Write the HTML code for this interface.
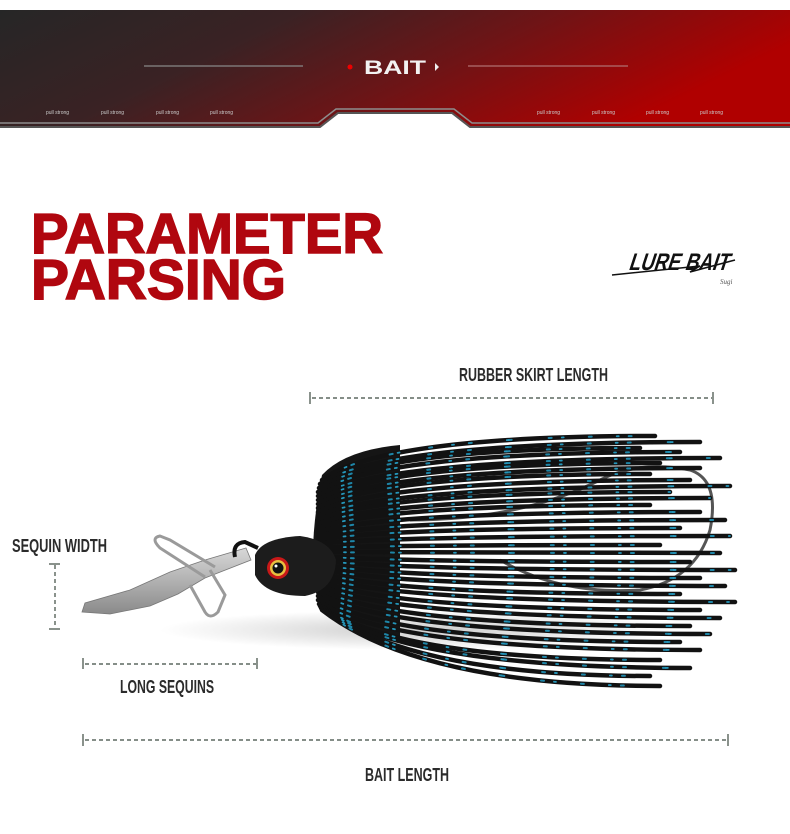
<!DOCTYPE html>
<html><head><meta charset="utf-8"><style>
html,body{margin:0;padding:0;background:#fff;}
svg{display:block;}
.lbl{font-family:"Liberation Sans",sans-serif;font-weight:bold;fill:#2b2b2b;}
</style></head><body>
<svg width="790" height="834" viewBox="0 0 790 834" xmlns="http://www.w3.org/2000/svg">
<defs>
<linearGradient id="bn" x1="0" y1="0" x2="1" y2="0.3">
<stop offset="0" stop-color="#262626"/>
<stop offset="0.35" stop-color="#3a2224"/>
<stop offset="0.65" stop-color="#6e1416"/>
<stop offset="1" stop-color="#b00000"/>
</linearGradient>
<radialGradient id="glow" cx="0.5" cy="1" r="0.5">
<stop offset="0" stop-color="#777" stop-opacity="0.6"/>
<stop offset="1" stop-color="#777" stop-opacity="0"/>
</radialGradient>
<radialGradient id="sh" cx="0.5" cy="0.5" r="0.5">
<stop offset="0" stop-color="#999" stop-opacity="0.5"/>
<stop offset="1" stop-color="#999" stop-opacity="0"/>
</radialGradient>
<linearGradient id="bl" x1="0" y1="0" x2="0" y2="1">
<stop offset="0" stop-color="#d8d8d8"/>
<stop offset="1" stop-color="#8a8a8a"/>
</linearGradient>
<clipPath id="bc"><path d="M0 10 H790 V126 H470 L452 112 H338 L320 126 H0 Z"/></clipPath>
<g id="strands" fill="none" stroke-linecap="round">
<path d="M322 480 Q380 436 655 436"/><path d="M320 484 Q380 442 700 442"/><path d="M319 488 Q380 448 640 448"/>
<path d="M318 492 Q380 452 680 452"/><path d="M318 496 Q380 458 720 458"/><path d="M318 500 Q380 463 660 463"/>
<path d="M318 504 Q380 468 700 468"/><path d="M318 508 Q380 474 650 474"/><path d="M318 512 Q380 480 690 480"/>
<path d="M318 516 Q380 486 730 486"/><path d="M318 520 Q380 492 670 492"/><path d="M318 524 Q380 498 710 498"/>
<path d="M318 528 Q380 505 650 505"/><path d="M318 532 Q380 512 700 512"/><path d="M318 536 Q380 520 725 520"/>
<path d="M318 540 Q380 528 680 528"/><path d="M318 544 Q380 536 730 536"/><path d="M318 548 Q380 545 660 545"/>
<path d="M318 552 Q380 553 720 553"/><path d="M318 556 Q380 562 690 562"/><path d="M318 560 Q380 570 735 570"/>
<path d="M318 564 Q380 578 700 578"/><path d="M318 568 Q380 586 725 586"/><path d="M318 572 Q380 594 680 594"/>
<path d="M318 576 Q380 602 735 602"/><path d="M318 580 Q380 610 700 610"/><path d="M318 584 Q380 618 720 618"/>
<path d="M318 588 Q380 626 690 626"/><path d="M318 592 Q380 634 710 634"/><path d="M318 596 Q380 642 680 642"/>
<path d="M318 600 Q380 650 700 650"/><path d="M319 604 Q390 660 660 660"/><path d="M320 606 Q400 668 690 668"/>
<path d="M321 608 Q410 676 650 676"/><path d="M322 610 Q420 686 660 686"/>
</g>
</defs>
<!-- banner -->
<path d="M0 10 H790 V126 H470 L452 112 H338 L320 126 H0 Z" fill="url(#bn)"/>
<ellipse cx="395" cy="115" rx="120" ry="50" fill="url(#glow)" clip-path="url(#bc)"/>
<path d="M0 123 H318 L336 109 H454 L472 123 H790" fill="none" stroke="#8d8d8d" stroke-width="1.5"/>
<path d="M0 127 H320 L338 113 H452 L470 127 H790" fill="none" stroke="#555" stroke-width="2"/>
<line x1="144" y1="66" x2="303" y2="66" stroke="#888" stroke-width="1.2"/>
<line x1="468" y1="66" x2="628" y2="66" stroke="#b07070" stroke-width="1.2"/>
<text x="395" y="74" text-anchor="middle" font-family="Liberation Sans,sans-serif" font-weight="bold" font-size="19" fill="#f2f2f2" textLength="62" lengthAdjust="spacingAndGlyphs">BAIT</text>
<circle cx="350" cy="67" r="2.5" fill="#e00"/>
<path d="M435 63 L439 67 L435 71 Z" fill="#eee"/>
<g font-family="Liberation Sans,sans-serif" font-size="5" fill="#ccc">
<text x="46" y="114">pull strong</text><text x="101" y="114">pull strong</text><text x="156" y="114">pull strong</text><text x="210" y="114">pull strong</text>
<text x="537" y="114">pull strong</text><text x="592" y="114">pull strong</text><text x="646" y="114">pull strong</text><text x="700" y="114">pull strong</text>
</g>
<!-- title -->
<g font-family="Liberation Sans,sans-serif" font-weight="bold" font-size="57" fill="#b0070f" stroke="#b0070f" stroke-width="1.5">
<text x="31" y="253" textLength="352" lengthAdjust="spacingAndGlyphs">PARAMETER</text>
<text x="31" y="299" textLength="255" lengthAdjust="spacingAndGlyphs">PARSING</text>
</g>
<!-- logo -->
<g transform="translate(628,270) skewX(-18)">
<text x="0" y="0" font-family="Liberation Sans,sans-serif" font-weight="bold" font-size="24" fill="#111" textLength="100" lengthAdjust="spacingAndGlyphs">LURE BAIT</text>
</g>
<path d="M612 275 L700 266 L690 272 L735 260" fill="none" stroke="#111" stroke-width="1.5"/>
<text x="720" y="284" font-family="Liberation Serif,serif" font-style="italic" font-size="7" fill="#555">Sugi</text>
<!-- labels and dims -->
<g stroke="#3c4a40" stroke-width="1.2" fill="none">
<line x1="312" y1="398" x2="712" y2="398" stroke-dasharray="4 3"/>
<line x1="310" y1="392" x2="310" y2="404"/><line x1="713" y1="392" x2="713" y2="404"/>
<line x1="55" y1="565" x2="55" y2="628" stroke-dasharray="4 3"/>
<line x1="49" y1="564" x2="60" y2="564"/><line x1="49" y1="629" x2="60" y2="629"/>
<line x1="85" y1="664" x2="256" y2="664" stroke-dasharray="4 3"/>
<line x1="83" y1="658" x2="83" y2="669"/><line x1="257" y1="658" x2="257" y2="669"/>
<line x1="85" y1="740" x2="726" y2="740" stroke-dasharray="4 3"/>
<line x1="83" y1="734" x2="83" y2="746"/><line x1="728" y1="734" x2="728" y2="746"/>
</g>
<text class="lbl" x="459" y="381" font-size="18" textLength="149" lengthAdjust="spacingAndGlyphs">RUBBER SKIRT LENGTH</text>
<text class="lbl" x="12" y="552" font-size="18" textLength="95" lengthAdjust="spacingAndGlyphs">SEQUIN WIDTH</text>
<text class="lbl" x="120" y="693" font-size="18" textLength="94" lengthAdjust="spacingAndGlyphs">LONG SEQUINS</text>
<text class="lbl" x="365" y="781" font-size="18" textLength="84" lengthAdjust="spacingAndGlyphs">BAIT LENGTH</text>
<!-- shadow -->
<ellipse cx="420" cy="630" rx="260" ry="20" fill="url(#sh)"/>
<!-- blade -->
<path d="M82 612 L85 603 L130 590 L170 572 L205 560 L246 548 L251 560 L205 578 L178 594 L150 606 L110 614 Z" fill="url(#bl)" stroke="#777" stroke-width="0.8"/>
<!-- clip -->
<path d="M205 577 L160 548 Q150 538 160 536 L170 540 L215 567 M190 585 L205 612 Q210 620 218 612 L225 595 L210 570" fill="none" stroke="#9a9a9a" stroke-width="3"/>
<path d="M235 557 Q232 543 245 542 L258 548" fill="none" stroke="#111" stroke-width="4"/>
<!-- hook -->
<path d="M410 520 Q520 520 600 480 Q640 460 690 470 Q720 480 710 530 Q695 580 640 590 Q560 595 500 560" fill="none" stroke="#555" stroke-width="3"/>
<!-- skirt body -->
<path d="M322 475 Q345 450 400 445 L400 640 Q350 630 320 608 Q305 560 322 475 Z" fill="#151515"/>
<use href="#strands" stroke="#121212" stroke-width="4.5"/>
<use href="#strands" stroke="#1e86a8" stroke-width="2" stroke-dasharray="3 37" stroke-dashoffset="7"/>
<use href="#strands" stroke="#2597bb" stroke-width="1.8" stroke-dasharray="2 53" stroke-dashoffset="29"/>
<!-- head -->
<path d="M255 555 Q262 538 300 536 Q330 540 336 560 Q335 590 305 596 Q265 596 255 575 Z" fill="#1c1c1c"/>
<circle cx="278" cy="568" r="11" fill="#c81818"/>
<circle cx="278" cy="568" r="8" fill="#e8c040"/>
<circle cx="278" cy="568" r="5.5" fill="#111"/>
<circle cx="276" cy="566" r="1.5" fill="#fff"/>
</svg>
</body></html>
